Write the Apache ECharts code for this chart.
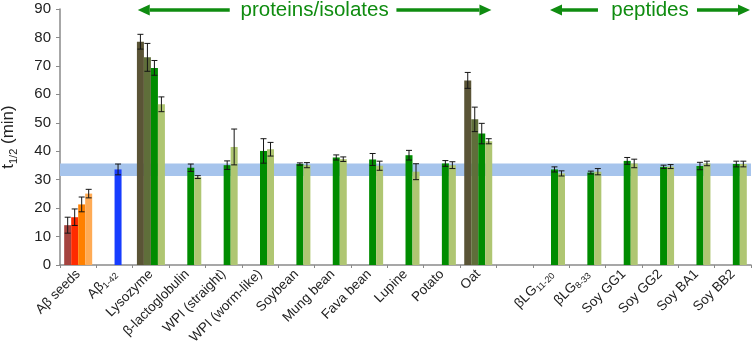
<!DOCTYPE html>
<html>
<head>
<meta charset="utf-8">
<script src="https://cdn.jsdelivr.net/npm/echarts@6/dist/echarts.min.js"></script>
<style>
  html, body { margin: 0; padding: 0; background: #fff; }
  #chart { width: 752px; height: 346px; }
</style>
</head>
<body>
<div id="chart"></div>
<script>
// categories (empty one is the gap between proteins and peptides)
const categories = ['Aβ seeds', 'Aβ1-42', 'Lysozyme', 'β-lactoglobulin', 'WPI (straight)', 'WPI (worm-like)',
  'Soybean', 'Mung bean', 'Fava bean', 'Lupine', 'Potato', 'Oat', '',
  'βLG11-20', 'βLG8-33', 'Soy GG1', 'Soy GG2', 'Soy BA1', 'Soy BB2'];
// label text split in main part + subscript
const labelMain = {'Aβ1-42': 'Aβ', 'βLG11-20': 'βLG', 'βLG8-33': 'βLG'};
const labelSub = {'Aβ1-42': '1-42', 'βLG11-20': '11-20', 'βLG8-33': '8-33'};

// 4 bar slots per category
const slot1 = [14.0, null, 78.5, null, null, null, null, null, null, null, null, 64.9, null, null, null, null, null, null, null];
const slot2 = [16.8, null, 73.0, null, null, null, null, null, null, null, null, 51.2, null, null, null, null, null, null, null];
const slot3 = [21.3, 33.6, 69.3, 34.2, 35.1, 40.1, 35.5, 37.8, 37.1, 38.6, 35.7, 46.2, null, 33.6, 32.5, 36.6, 34.5, 34.8, 35.5];
const slot4 = [25.1, null, 56.5, 30.9, 41.5, 40.7, 35.1, 37.2, 34.9, 32.8, 35.1, 43.5, null, 32.2, 32.8, 35.7, 34.6, 35.7, 35.5];

const err1 = [2.8, null, 2.6, null, null, null, null, null, null, null, null, 2.8, null, null, null, null, null, null, null];
const err2 = [2.9, null, 4.9, null, null, null, null, null, null, null, null, 4.3, null, null, null, null, null, null, null];
const err3 = [2.6, 1.9, 2.6, 1.3, 1.5, 4.3, 0.4, 0.9, 2.1, 1.7, 1.0, 3.6, null, 0.9, 0.5, 1.2, 0.6, 1.3, 1.0];
const err4 = [1.5, null, 2.6, 0.5, 6.3, 2.4, 0.9, 0.8, 1.6, 2.8, 1.2, 0.9, null, 0.9, 1.1, 1.5, 0.7, 0.8, 1.0];

// blue reference band (Aβ1-42 range)
const bandRange = [31.3, 35.7];

const seedColors = ['#a5433f', '#ff2b00', '#ff8000', '#ffab55'];
const proteinColors = ['#5a5436', '#5f6e3a', '#008c00', '#afc672'];
const blue = '#173dff';

const barW = 7;
const slots = [slot1, slot2, slot3, slot4];
const errs = [err1, err2, err3, err4];

function colorFor(slot) {
  return function (p) {
    if (p.dataIndex === 0) return seedColors[slot];
    if (p.dataIndex === 1) return blue;
    return proteinColors[slot];
  };
}

const series = [];
slots.forEach(function (data, k) {
  const s = {
    type: 'bar',
    data: data,
    barWidth: barW,
    barGap: '0%',
    itemStyle: { color: colorFor(k) },
    z: 2
  };
  if (k === 0) {
    s.markArea = {
      silent: true,
      itemStyle: { color: '#a6c4ec' },
      data: [[{ yAxis: bandRange[0] }, { yAxis: bandRange[1] }]]
    };
  }
  series.push(s);
});
// error bars
slots.forEach(function (data, k) {
  const pts = [];
  data.forEach(function (v, i) {
    if (v != null && errs[k][i] != null) pts.push([i, v, errs[k][i]]);
  });
  series.push({
    type: 'custom',
    z: 5,
    data: pts,
    renderItem: function (params, api) {
      const i = api.value(0), v = api.value(1), e = api.value(2);
      const c = api.coord([i, v]);
      const x = c[0] + (k - 1.5) * barW;
      const top = api.coord([i, v + e])[1];
      const bot = api.coord([i, v - e])[1];
      const st = { stroke: '#151515', lineWidth: 1 };
      return {
        type: 'group',
        children: [
          { type: 'line', shape: { x1: x, y1: top, x2: x, y2: bot }, style: st },
          { type: 'line', shape: { x1: x - 3, y1: top, x2: x + 3, y2: top }, style: st },
          { type: 'line', shape: { x1: x - 3, y1: bot, x2: x + 3, y2: bot }, style: st }
        ]
      };
    }
  });
});

const chart = echarts.init(document.getElementById('chart'));
const option = {
  animation: false,
  grid: { left: 60, right: 1, top: 9, bottom: 81, outerBoundsMode: 'none' },
  xAxis: {
    type: 'category',
    data: categories,
    axisLine: { lineStyle: { color: '#8a8a8a', width: 1.5 } },
    axisTick: { show: true, length: 3, lineStyle: { color: '#8a8a8a' } },
    axisLabel: {
      interval: 0,
      rotate: 45,
      margin: 7,
      fontFamily: 'Liberation Sans',
      fontSize: 13,
      color: '#222',
      formatter: function (v) {
        if (labelSub[v]) return '{n|' + labelMain[v] + '}{s|' + labelSub[v] + '}';
        return '{n|' + v + '}';
      },
      rich: {
        n: { fontFamily: 'Liberation Sans', fontSize: 13.5, color: '#222', lineHeight: 16 },
        s: { fontFamily: 'Liberation Sans', fontSize: 9, color: '#222', lineHeight: 16, verticalAlign: 'bottom' }
      }
    }
  },
  yAxis: {
    type: 'value',
    min: 0,
    max: 90,
    interval: 10,
    name: '{t|t}{s|1/2}{t| (min)}',
    nameLocation: 'middle',
    nameGap: 41,
    nameTextStyle: {
      rich: {
        t: { fontFamily: 'Liberation Sans', fontSize: 17, color: '#222', lineHeight: 22 },
        s: { fontFamily: 'Liberation Sans', fontSize: 11, color: '#222', lineHeight: 22, verticalAlign: 'bottom' }
      }
    },
    axisLine: { show: true, lineStyle: { color: '#8a8a8a', width: 1.5 } },
    axisTick: { show: true, length: 4, lineStyle: { color: '#8a8a8a' } },
    splitLine: { show: false },
    axisLabel: { fontFamily: 'Liberation Sans', fontSize: 15, color: '#222', margin: 9 }
  },
  series: series
};
chart.setOption(option);

// header annotations: arrows + group names, positioned on the category axis
const green = '#0f8c10';
const cw = chart.convertToPixel({ xAxisIndex: 0 }, 1) - chart.convertToPixel({ xAxisIndex: 0 }, 0);
const cx = function (i) { return chart.convertToPixel({ xAxisIndex: 0 }, i); };
const headY = 10;

function arrow(x1, x2) {
  // arrow head at x2
  const dir = x2 > x1 ? 1 : -1;
  const head = 12;
  return [
    { type: 'line', shape: { x1: x1, y1: headY, x2: x2 - dir * head, y2: headY }, style: { stroke: green, lineWidth: 3.5 } },
    { type: 'polygon', shape: { points: [[x2, headY], [x2 - dir * head, headY - 5.5], [x2 - dir * head, headY + 5.5]] }, style: { fill: green } }
  ];
}
function header(text, left, right, lenL, lenR) {
  const mid = (left + right) / 2;
  return [].concat(
    arrow(left + lenL, left),
    arrow(right - lenR, right),
    [{ type: 'text', x: mid, y: headY, style: { text: text, fill: green, fontFamily: 'Liberation Sans', fontSize: 20.5, align: 'center', verticalAlign: 'middle' } }]
  );
}
const elems = [].concat(
  header('proteins/isolates', cx(2) - cw / 2 + 5, cx(11) + cw / 2 - 5, 92, 95),
  header('peptides', cx(13) - 1, cx(18) + cw / 2 - 1, 48, 53)
);
chart.setOption({ graphic: elems.map(function (e) { return Object.assign({ z: 10 }, e); }) });
</script>
</body>
</html>
